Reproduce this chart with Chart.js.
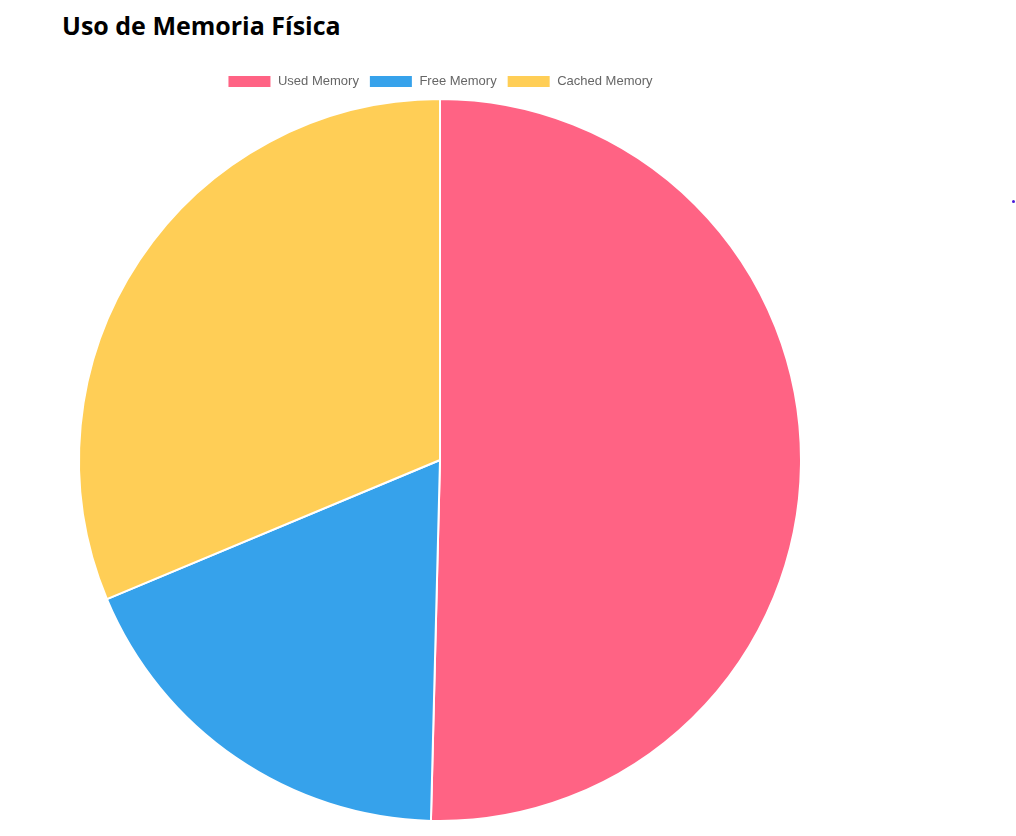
<!DOCTYPE html>
<html>
<head>
<meta charset="utf-8">
<script src="https://cdn.jsdelivr.net/npm/chart.js@4.4.0/dist/chart.umd.min.js"></script>
<style>
  html, body { margin: 0; padding: 0; background: #fff; width: 1016px; height: 836px; overflow: hidden; }
  #title { position: absolute; left: 62px; top: 8px; margin: 0; font-family: "Open Sans", "Noto Sans", sans-serif; font-weight: 700; font-size: 25px; color: #000; }
  #wrap { position: absolute; left: 0; top: 65px; width: 880px; height: 757px; }
  #dot { position: absolute; left: 1012px; top: 200px; width: 3px; height: 3px; background: #4a1ad8; border-radius: 50%; }
</style>
</head>
<body>
<h2 id="title">Uso de Memoria Física</h2>
<div id="wrap"><canvas id="c"></canvas></div>
<div id="dot"></div>
<script>
const categories = ["Used Memory", "Free Memory", "Cached Memory"];
const memoryValues = [50.4, 18.3, 31.3];
const sliceColors = ["#FF6384", "#36A2EB", "#FFCE56"];

new Chart(document.getElementById("c"), {
  type: "pie",
  data: {
    labels: categories,
    datasets: [{
      data: memoryValues,
      backgroundColor: sliceColors,
      borderColor: "#fff",
      borderWidth: 2
    }]
  },
  options: {
    responsive: true,
    maintainAspectRatio: false,
    animation: false,
    plugins: {
      legend: {
        position: "top",
        labels: {
          color: "#666",
          boxWidth: 44,
          font: { family: "'Liberation Sans', Arial, sans-serif", size: 13 }
        }
      },
      tooltip: { enabled: false }
    }
  }
});
</script>
</body>
</html>
